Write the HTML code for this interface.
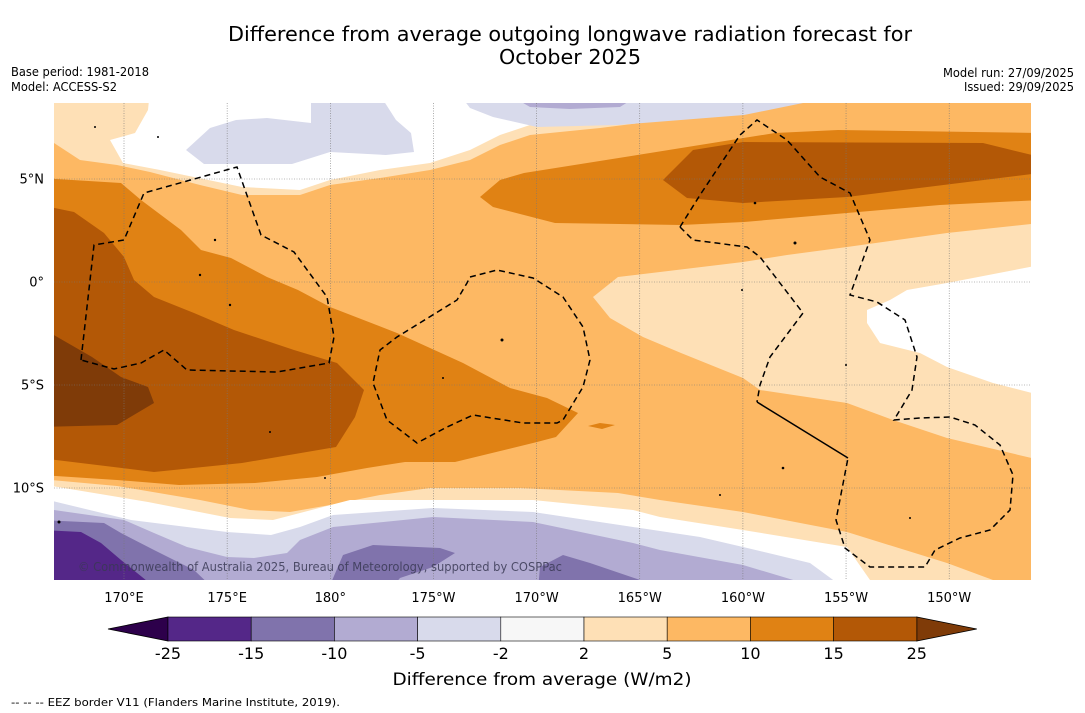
<!DOCTYPE html>
<html><head><meta charset="utf-8"><style>
html,body{margin:0;padding:0;background:#fff;}
body{width:1085px;height:713px;overflow:hidden;font-family:"DejaVu Sans","Liberation Sans",sans-serif;}
svg{display:block;}
</style></head><body>
<svg id="chart" width="1085" height="713" viewBox="0 0 1085 713" xmlns="http://www.w3.org/2000/svg">
<text x="570" y="41" text-anchor="middle" font-size="20" textLength="684" lengthAdjust="spacingAndGlyphs" fill="#000">Difference from average outgoing longwave radiation forecast for</text>
<text x="570" y="64" text-anchor="middle" font-size="20" textLength="142" lengthAdjust="spacingAndGlyphs" fill="#000">October 2025</text>
<text x="11" y="76" font-size="12" textLength="138" lengthAdjust="spacingAndGlyphs">Base period: 1981-2018</text>
<text x="11" y="91" font-size="12" textLength="106" lengthAdjust="spacingAndGlyphs">Model: ACCESS-S2</text>
<text x="1074" y="77" font-size="12" text-anchor="end" textLength="131" lengthAdjust="spacingAndGlyphs">Model run: 27/09/2025</text>
<text x="1074" y="91" font-size="12" text-anchor="end" textLength="110" lengthAdjust="spacingAndGlyphs">Issued: 29/09/2025</text>

<defs><clipPath id="mapclip"><rect x="54" y="103" width="977" height="477"/></clipPath></defs>
<g clip-path="url(#mapclip)">
<rect x="54" y="103" width="977" height="477" fill="#fdb863"/>
<path fill="#fee0b6" d="M40,90 L850,90 L800,103 L750,108 L680,118 L600,128 L530,135 L500,145 L470,160 L430,170 L380,178 L330,185 L300,195 L242,195 L200,185 L150,172 L117,165 L80,160 L54,143 L40,143 Z"/>
<path fill="#ffffff" d="M150,90 L760,90 L740,103 L700,110 L600,120 L530,125 L500,135 L470,150 L430,163 L380,170 L330,180 L300,190 L242,187 L160,170 L123,163 L110,140 L135,133 L148,110 Z"/>
<path fill="#d8daeb" d="M311,95 L380,95 L396,120 L411,133 L414,152 L386,155 L330,152 L292,164 L204,164 L186,150 L210,128 L236,120 L267,118 L311,123 Z"/>
<path fill="#d8daeb" d="M460,95 L810,95 L803,103 L744,115 L618,125 L537,127 L493,117 L470,108 Z"/>
<path fill="#b2abd2" d="M518,100 L631,100 L620,107 L570,109 L530,107 Z"/>
<path fill="#e08214" d="M480,197 L500,180 L524,173 L650,153 L775,133 L838,130 L1040,133 L1040,200 L940,205 L847,213 L744,222 L681,225 L555,223 L493,207 Z"/>
<path fill="#b35806" d="M663,180 L693,150 L743,142 L983,143 L1040,157 L1040,173 L847,197 L743,203 L687,198 Z"/>
<path fill="#fee0b6" d="M1040,223 L947,233 L847,247 L787,255 L743,262 L660,272 L618,277 L593,297 L610,318 L643,337 L681,353 L743,378 L760,390 L847,403 L893,420 L947,438 L1040,460 Z"/>
<path fill="#ffffff" d="M1040,265 L947,283 L907,290 L890,300 L867,310 L867,323 L880,343 L920,353 L947,367 L993,383 L1040,395 Z"/>
<path fill="#e08214" d="M40,178 L121,183 L141,200 L181,230 L201,250 L231,258 L267,277 L298,290 L330,307 L397,333 L463,363 L510,388 L547,398 L578,413 L556,437 L537,442 L455,462 L405,462 L367,468 L317,477 L255,483 L179,485 L117,480 L40,475 Z"/>
<path fill="#e08214" d="M588,426 L600,423 L615,425 L602,429 Z"/>
<path fill="#b35806" d="M40,205 L74,212 L104,233 L124,257 L134,280 L154,297 L194,313 L234,330 L294,350 L337,363 L364,390 L355,417 L336,447 L242,463 L154,472 L40,458 Z"/>
<path fill="#7f3b08" d="M40,327 L92,357 L121,377 L148,387 L154,403 L117,425 L40,427 Z"/>
<path fill="#fee0b6" d="M40,479 L117,486 L200,500 L250,510 L290,512 L330,505 L380,495 L430,488 L520,488 L618,493 L660,500 L743,512 L847,532 L947,563 L993,580 L993,600 L40,600 Z"/>
<path fill="#ffffff" d="M40,484 L148,502 L230,518 L273,520 L300,513 L350,500 L533,500 L633,510 L660,517 L743,530 L847,547 L870,580 L870,600 L40,600 Z"/>
<path fill="#d8daeb" d="M40,498 L131,520 L187,527 L227,532 L271,535 L300,527 L333,515 L433,508 L533,512 L633,527 L700,537 L743,547 L810,563 L840,585 L40,600 Z"/>
<path fill="#b2abd2" d="M40,508 L124,520 L154,533 L187,547 L227,557 L254,558 L287,553 L300,540 L333,527 L433,517 L533,522 L633,543 L660,550 L743,565 L810,585 L40,600 Z"/>
<path fill="#8073ac" d="M40,520 L104,523 L121,533 L154,550 L194,570 L215,590 L40,590 Z"/>
<path fill="#8073ac" d="M328,590 L343,555 L373,545 L440,548 L455,553 L433,567 L400,578 L390,590 Z"/>
<path fill="#8073ac" d="M538,590 L540,567 L563,555 L590,563 L640,580 L645,590 Z"/>
<path fill="#542788" d="M40,530 L81,532 L101,543 L121,560 L147,581 L150,590 L40,590 Z"/>

<g id="grid" stroke="#777" stroke-width="0.6" stroke-dasharray="1,1.5"></g>

<g fill="none" stroke="#000" stroke-width="1.5" stroke-dasharray="6,4">
<path d="M81,360 L94,245 L124,240 L144,193 L237,167 L261,235 L294,252 L327,297 L334,337 L329,363 L277,372 L187,370 L164,350 L141,363 L114,369 Z"/>
<path d="M470,277 L497,270 L533,278 L563,297 L583,327 L590,360 L583,387 L563,420 L557,423 L523,423 L473,415 L447,427 L417,443 L387,420 L373,383 L380,350 L397,337 L457,300 L467,283 Z"/>
<path d="M680,227 L693,240 L747,247 L760,257 L803,313 L770,357 L760,385 L757,402"/>
<path d="M680,227 L700,195 L740,135 L757,120 L787,140 L820,177 L850,193 L870,240 L850,295 L877,302 L905,320 L917,357 L912,390 L894,420 L920,418 L950,417 L975,425 L1000,445 L1013,475 L1010,510 L990,530 L960,538 L935,550 L925,567 L900,567 L870,567 L845,548 L836,520 L848,458"/>
<path stroke-dasharray="none" d="M757,402 L848,458"/>
</g>
<g fill="#000">
<circle cx="215" cy="240" r="1.2"/><circle cx="200" cy="275" r="1.2"/><circle cx="230" cy="305" r="1.2"/><circle cx="502" cy="340" r="1.5"/><circle cx="443" cy="378" r="1"/><circle cx="742" cy="290" r="1"/><circle cx="846" cy="365" r="1"/><circle cx="783" cy="468" r="1.3"/><circle cx="720" cy="495" r="1"/><circle cx="158" cy="137" r="1"/><circle cx="95" cy="127" r="1"/><circle cx="755" cy="203" r="1.3"/><circle cx="795" cy="243" r="1.5"/><circle cx="270" cy="432" r="1"/><circle cx="325" cy="478" r="1"/><circle cx="910" cy="518" r="1"/><circle cx="59" cy="522" r="1.5"/>
</g>
<text x="78" y="571" font-size="12.5" textLength="484" lengthAdjust="spacingAndGlyphs" fill="#3a3a55" fill-opacity="0.85">© Commonwealth of Australia 2025, Bureau of Meteorology, supported by COSPPac</text>
</g>
<g id="latlabels" font-size="13"></g>
<g id="lonlabels" font-size="13"></g>
<g id="colorbar"></g>
<text x="542" y="685" text-anchor="middle" font-size="17" textLength="299" lengthAdjust="spacingAndGlyphs">Difference from average (W/m2)</text>
<text x="11" y="706" font-size="11" textLength="329" lengthAdjust="spacingAndGlyphs">--  --  -- EEZ border V11 (Flanders Marine Institute, 2019).</text>
</svg>
<script>
const lonLabels = ["170°E","175°E","180°","175°W","170°W","165°W","160°W","155°W","150°W"];
const lonValues = [170,175,180,185,190,195,200,205,210];
const latLabels = ["5°N","0°","5°S","10°S"];
const latValues = [5,0,-5,-10];
const cbLevels = ["-25","-15","-10","-5","-2","2","5","10","15","25"];
const cbColors = ["#542788","#8073ac","#b2abd2","#d8daeb","#f7f7f7","#fee0b6","#fdb863","#e08214","#b35806"];
const cbLow = "#2d004b";
const cbHigh = "#7f3b08";

const NS = "http://www.w3.org/2000/svg";
const xOfLon = lon => 124 + (lon - 170) * 20.63;
const yOfLat = lat => 282 - lat * 20.6;
function mk(tag, attrs, parent){const e=document.createElementNS(NS,tag);for(const k in attrs)e.setAttribute(k,attrs[k]);parent.appendChild(e);return e;}

const grid = document.getElementById("grid");
lonValues.forEach((v)=>{
  const l = mk("line",{x1:xOfLon(v),x2:xOfLon(v),y1:103,y2:580},grid);
  
  
});
latValues.forEach((v)=>{
  const l = mk("line",{x1:54,x2:1031,y1:yOfLat(v),y2:yOfLat(v)},grid);
  
  
});
const lonG = document.getElementById("lonlabels");
lonValues.forEach((v,i)=>{
  const t = mk("text",{x:xOfLon(v),y:602,"text-anchor":"middle"},lonG);
  t.textContent = lonLabels[i];
  
  
});
const latG = document.getElementById("latlabels");
latValues.forEach((v,i)=>{
  const t = mk("text",{x:44,y:yOfLat(v)+4.5,"text-anchor":"end"},latG);
  t.textContent = latLabels[i];
  
  
});

const cb = document.getElementById("colorbar");
const cbX0 = 168, cbW = 83.2, cbY = 617, cbH = 24;
const n = cbColors.length;
const lowArrow = mk("polygon",{points:`${cbX0},${cbY} ${cbX0},${cbY+cbH} 108,${cbY+cbH/2}`,fill:cbLow,stroke:"#000","stroke-width":0.8},cb);


const xEnd = cbX0 + n*cbW;
const highArrow = mk("polygon",{points:`${xEnd},${cbY} ${xEnd},${cbY+cbH} ${xEnd+60},${cbY+cbH/2}`,fill:cbHigh,stroke:"#000","stroke-width":0.8},cb);


cbColors.forEach((c,i)=>{
  const r = mk("rect",{x:cbX0+i*cbW,y:cbY,width:cbW,height:cbH,fill:c,stroke:"#000","stroke-width":0.6},cb);
  
  
});
cbLevels.forEach((lab,i)=>{
  const t = mk("text",{x:cbX0+i*cbW,y:cbY+cbH+18,"text-anchor":"middle","font-size":16},cb);
  t.textContent = lab;
  
  
});
</script>
</body></html>
